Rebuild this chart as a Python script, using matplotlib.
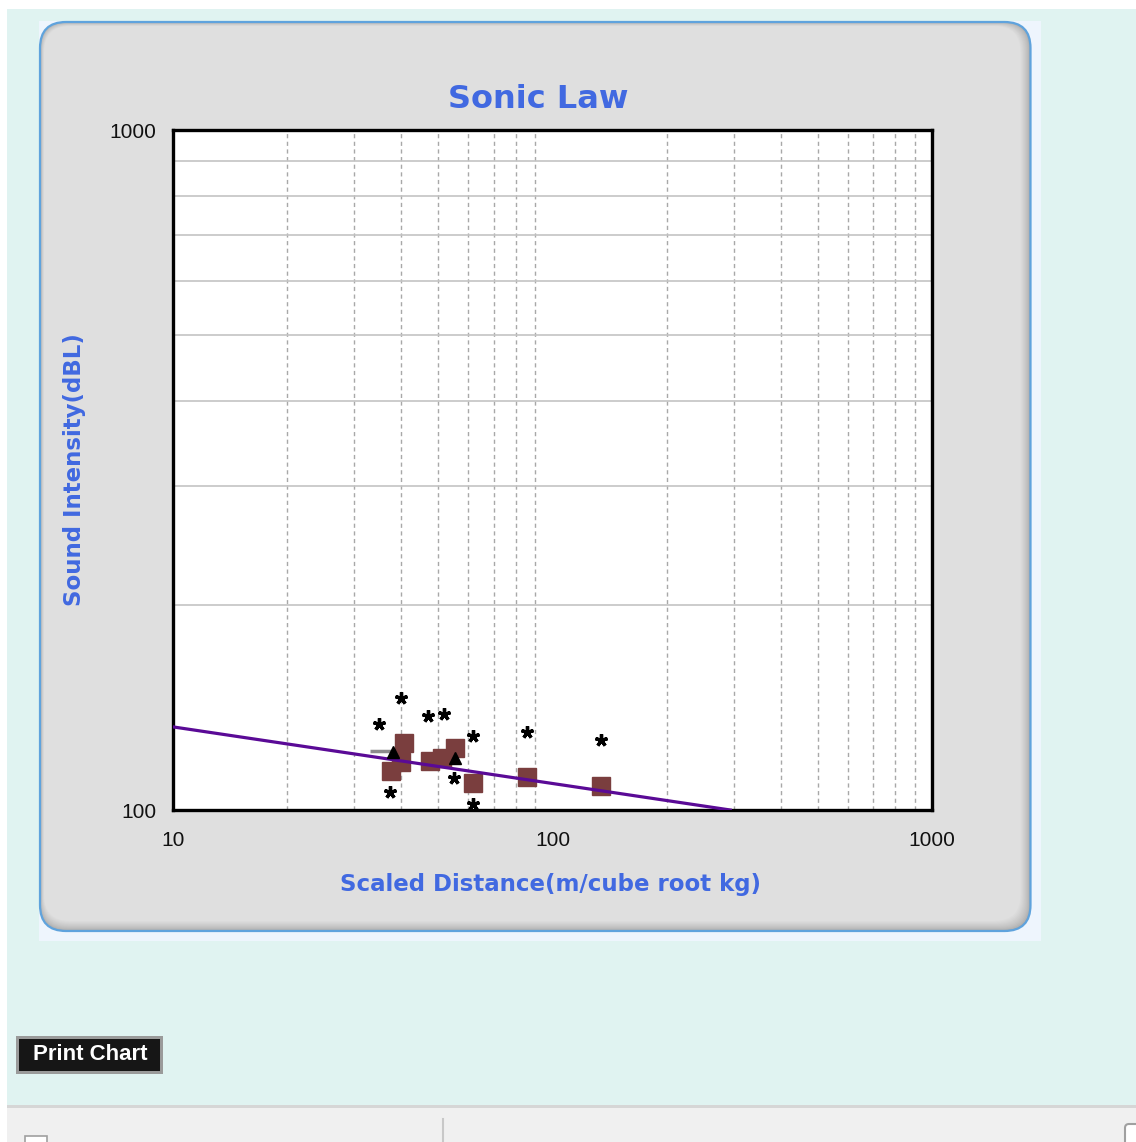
import matplotlib
matplotlib.use("Agg")
import matplotlib.pyplot as plt
from matplotlib.patches import Rectangle, FancyBboxPatch
import numpy as np

# ---------------- data ----------------
title = "Sonic Law"
x_label = "Scaled Distance(m/cube root kg)"
y_label = "Sound Intensity(dBL)"
x_ticks = [10, 100, 1000]
y_ticks = [100, 1000]

# measured values (squares)
meas_x = [40.6, 37.5, 40.0, 47.6, 51.1, 55.3, 61.6, 85.5, 134.2]
meas_y = [125.5, 114.3, 117.8, 118.2, 119.1, 123.2, 109.7, 111.7, 108.6]

# asterisk points
star_x = [34.8, 40.0, 47.1, 51.9, 61.6, 85.5, 134.2, 37.3, 55.1, 61.6]
star_y = [133.7, 146.0, 137.5, 138.4, 128.5, 130.1, 126.7, 106.2, 111.6, 102.0]

# triangles
tri_x = [38.1, 55.3]
tri_y = [121.8, 119.3]

# short grey segment
seg_x = [33.0, 38.1]
seg_y = [122.2, 122.2]

# regression line (sonic law)
line_x = [10, 294]
line_y = [132.5, 100]

# ---------------- figure ----------------
W, H = 1136, 1142
fig = plt.figure(figsize=(W / 100, H / 100), dpi=100, facecolor="white")

bg = fig.add_axes([0, 0, 1, 1], zorder=0)
bg.set_xlim(0, W)
bg.set_ylim(H, 0)
bg.axis("off")

# page background
bg.add_patch(Rectangle((7, 9), W - 7, 1105 - 9, facecolor="#E0F3F1", edgecolor="none"))
bg.add_patch(Rectangle((7, 1105), W - 7, 2.5, facecolor="#D6D6D6", edgecolor="none"))
bg.add_patch(Rectangle((7, 1107.5), W - 7, H - 1107.5, facecolor="#F0F0F0", edgecolor="none"))
bg.plot([443, 443], [1119, H], color="#C8C8C8", lw=1.5)
bg.add_patch(FancyBboxPatch((1125, 1124), 30, 30, boxstyle="round,pad=0,rounding_size=4",
                            facecolor="white", edgecolor="#A0A0A0", lw=1.5))
bg.add_patch(Rectangle((25, 1136), 22, 12, facecolor="white", edgecolor="#A0A0A0", lw=1.2))

# panel
bg.add_patch(Rectangle((39, 21), 1002, 920, facecolor="#EEF5FD", edgecolor="none"))
px0, py0, px1, py1 = 40, 22, 1030.5, 931
r = 26
c0 = np.array([0xA8, 0xA8, 0xA8]) / 255
c1 = np.array([0xDF, 0xDF, 0xDF]) / 255
steps = 10
for i in range(steps + 1):
    t = i / steps
    col = c0 + (c1 - c0) * (t ** 0.7)
    inset = 10 * t
    bg.add_patch(FancyBboxPatch((px0 + 0.4 * inset, py0 + 0.4 * inset),
                                (px1 - px0) - 1.4 * inset, (py1 - py0) - 1.4 * inset,
                                boxstyle=f"round,pad=0,rounding_size={r}",
                                facecolor=col, edgecolor="none"))
bg.add_patch(FancyBboxPatch((px0, py0), px1 - px0, py1 - py0,
                            boxstyle=f"round,pad=0,rounding_size={r}",
                            facecolor="none", edgecolor="#5FA3DD", lw=1.6))

# print button
bg.add_patch(Rectangle((16, 1036), 147, 38, facecolor="#9A9A9A", edgecolor="none"))
bg.add_patch(Rectangle((19, 1039), 141, 32, facecolor="#161616", edgecolor="none"))
bg.text(90, 1055, "Print Chart", color="white", fontsize=16, fontweight="bold",
        family="Liberation Sans", ha="center", va="center")

# ---------------- chart ----------------
L, R, T, B = 173, 932, 130, 810
ax = fig.add_axes([L / W, 1 - B / H, (R - L) / W, (B - T) / H], zorder=2)
ax.set_facecolor("white")
ax.set_xscale("log")
ax.set_yscale("log")
ax.set_xlim(10, 1000)
ax.set_ylim(100, 1000)

ax.set_xticks(x_ticks)
ax.set_xticklabels([str(v) for v in x_ticks])
ax.set_yticks(y_ticks)
ax.set_yticklabels([str(v) for v in y_ticks])
ax.xaxis.set_minor_locator(matplotlib.ticker.LogLocator(base=10, subs=np.arange(2, 10)))
ax.yaxis.set_minor_locator(matplotlib.ticker.LogLocator(base=10, subs=np.arange(2, 10)))
ax.xaxis.set_minor_formatter(matplotlib.ticker.NullFormatter())
ax.yaxis.set_minor_formatter(matplotlib.ticker.NullFormatter())
ax.tick_params(which="both", length=0)
ax.tick_params(axis="x", pad=15, labelsize=15, labelcolor="#111111")
ax.tick_params(axis="y", pad=12, labelsize=15, labelcolor="#111111")
for lab in ax.get_xticklabels() + ax.get_yticklabels():
    lab.set_family("Liberation Sans")

ax.grid(which="minor", axis="x", color="#A8A8A8", lw=1.0, ls=(0, (3, 2.5)))
ax.grid(which="minor", axis="y", color="#C4C4C4", lw=1.2, ls="-")
ax.set_axisbelow(True)
for sp in ax.spines.values():
    sp.set_linewidth(2.4)
    sp.set_color("black")

ax.plot(seg_x, seg_y, color="#8C8C8C", lw=2.5, zorder=3, solid_capstyle="butt")
ax.plot(meas_x, meas_y, ls="none", marker="s", ms=12.3, mfc="#7A3E3E", mec="#7A3E3E", zorder=4)
ax.plot(line_x, line_y, color="#5A0A96", lw=2.3, zorder=5)
ax.plot(tri_x, tri_y, ls="none", marker="^", ms=9, color="black", zorder=6)
ax.plot(star_x, star_y, ls="none", marker=(5, 2, 0), ms=9, mew=2.4, color="black", zorder=7)

blue = "#4169E1"
ax.set_title(title, color=blue, fontsize=23, fontweight="bold", family="DejaVu Sans",
             x=(538 - L) / (R - L), y=(B - 99) / (B - T), pad=0, va="center")
ax.set_xlabel(x_label, color=blue, fontsize=16.5, fontweight="bold", family="DejaVu Sans")
ax.xaxis.set_label_coords((551 - L) / (R - L), (B - 884) / (B - T))
ax.xaxis.label.set_va("center")
ax.set_ylabel(y_label, color=blue, fontsize=16.5, fontweight="bold", family="DejaVu Sans")
ax.yaxis.set_label_coords((75 - L) / (R - L), (B - 470) / (B - T))
ax.yaxis.label.set_va("center")

fig.savefig("out.png", dpi=100, facecolor=fig.get_facecolor())
